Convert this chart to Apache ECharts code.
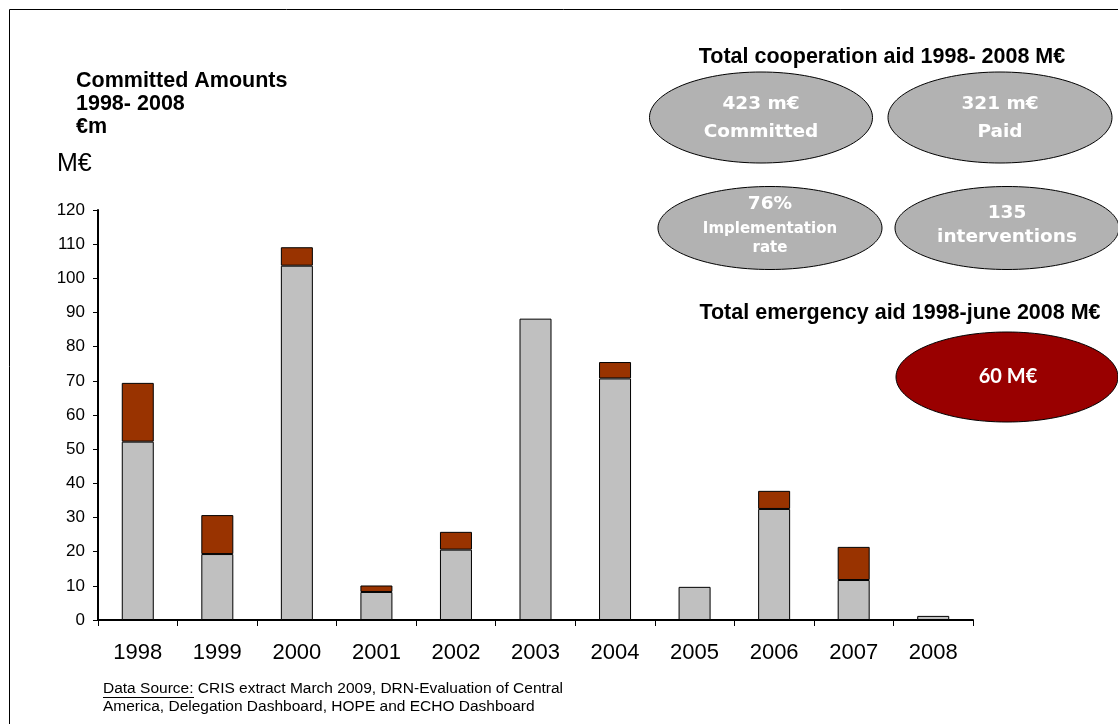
<!DOCTYPE html>
<html>
<head>
<meta charset="utf-8">
<script src="https://cdn.jsdelivr.net/npm/echarts@6/dist/echarts.min.js"></script>
<style>
  html, body { margin: 0; padding: 0; background: #fff; }
  #chart { width: 1118px; height: 724px; }
</style>
</head>
<body>
<div id="chart"></div>
<script>
// Committed amounts per year, M€
const years = ['1998', '1999', '2000', '2001', '2002', '2003', '2004', '2005', '2006', '2007', '2008'];
const cooperation = [52.2, 19.3, 103.7, 8.2, 20.6, 88.2, 70.7, 9.7, 32.5, 11.7, 1.2];
const emergency = [17.2, 11.4, 5.4, 1.9, 5.2, '-', 4.8, '-', 5.3, 9.7, '-'];

// Summary figures shown in the ovals
const coopTitle = 'Total cooperation aid 1998- 2008 M€';
const emergTitle = 'Total emergency aid 1998-june 2008 M€';
const coopBubbles = [
  ['423 m€', 'Committed'],
  ['321 m€', 'Paid'],
  ['76%', 'Implementation', 'rate'],
  ['135', 'interventions']
];
const emergBubble = '60 M€';

const chart = echarts.init(document.getElementById('chart'), null, { renderer: 'canvas' });

const titleFont = 'bold 21.5px "Liberation Sans", Arial, sans-serif';
const bubbleFont = 'bold 18.5px "DejaVu Sans", Verdana, sans-serif';
const smallBubbleFont = 'bold 15px "DejaVu Sans", Verdana, sans-serif';
const noteFont = '15.5px "Liberation Sans", Arial, sans-serif';

function oval(cx, cy, rx, ry, fill) {
  return {
    type: 'ellipse',
    shape: { cx: cx, cy: cy, rx: rx, ry: ry },
    style: { fill: fill, stroke: '#000', lineWidth: 1 },
    z: 1
  };
}
function label(text, x, y, font, fill, align) {
  return {
    type: 'text',
    x: x, y: y,
    style: {
      text: text, font: font, fill: fill || '#000',
      align: align || 'center', verticalAlign: 'middle'
    },
    z: 2
  };
}

const graphics = [
  // frame edges
  { type: 'line', shape: { x1: 9.5, y1: 9.5, x2: 1118, y2: 9.5 }, style: { stroke: '#000', lineWidth: 1 } },
  { type: 'line', shape: { x1: 9.5, y1: 9.5, x2: 9.5, y2: 724 }, style: { stroke: '#000', lineWidth: 1 } },

  // left heading
  label('Committed Amounts', 76, 81, titleFont, '#000', 'left'),
  label('1998- 2008', 76, 104, titleFont, '#000', 'left'),
  label('€m', 76, 127, titleFont, '#000', 'left'),
  label('M€', 57, 164, '25px "Liberation Sans", Arial, sans-serif', '#000', 'left'),

  // cooperation summary
  label(coopTitle, 882, 57, titleFont),
  oval(761, 117.5, 111.5, 45.5, '#b2b2b2'),
  label(coopBubbles[0][0], 761, 104, bubbleFont, '#fff'),
  label(coopBubbles[0][1], 761, 132, bubbleFont, '#fff'),
  oval(1000, 117.5, 112, 45.5, '#b2b2b2'),
  label(coopBubbles[1][0], 1000, 104, bubbleFont, '#fff'),
  label(coopBubbles[1][1], 1000, 132, bubbleFont, '#fff'),
  oval(770, 228, 112, 41.5, '#b2b2b2'),
  label(coopBubbles[2][0], 770, 204, bubbleFont, '#fff'),
  label(coopBubbles[2][1], 770, 229, smallBubbleFont, '#fff'),
  label(coopBubbles[2][2], 770, 248, smallBubbleFont, '#fff'),
  oval(1007, 228, 112, 41.5, '#b2b2b2'),
  label(coopBubbles[3][0], 1007, 213, bubbleFont, '#fff'),
  label(coopBubbles[3][1], 1007, 237, bubbleFont, '#fff'),

  // emergency summary
  label(emergTitle, 900, 313, titleFont),
  oval(1007, 377, 111, 45, '#990000'),
  label(emergBubble, 1008, 377, 'bold 20px Lato, "Open Sans", sans-serif', '#fff'),

  // source note
  label('Data Source: CRIS extract March 2009, DRN-Evaluation of Central', 103, 689, noteFont, '#000', 'left'),
  label('America, Delegation Dashboard, HOPE and ECHO Dashboard', 103, 707, noteFont, '#000', 'left'),
  { type: 'line', shape: { x1: 103, y1: 697.5, x2: 194, y2: 697.5 }, style: { stroke: '#000', lineWidth: 1 } }
];

const option = {
  animation: false,
  backgroundColor: '#fff',
  textStyle: { fontFamily: '"Liberation Sans", Arial, sans-serif' },
  grid: { left: 98, right: 145, top: 210, bottom: 104, containLabel: false },
  xAxis: {
    type: 'category',
    data: years,
    boundaryGap: true,
    axisLine: { show: true, lineStyle: { color: '#000', width: 2 } },
    axisTick: { show: true, interval: 0, length: 6, lineStyle: { color: '#000', width: 1 } },
    axisLabel: { color: '#000', fontSize: 22, margin: 22, interval: 0 },
    splitLine: { show: false }
  },
  yAxis: {
    type: 'value',
    min: 0, max: 120, interval: 10,
    axisLine: { show: true, lineStyle: { color: '#000', width: 2 } },
    axisTick: { show: true, length: 5, lineStyle: { color: '#000', width: 1 } },
    axisLabel: { color: '#000', fontSize: 17, margin: 13 },
    splitLine: { show: false }
  },
  series: [
    {
      name: 'Cooperation',
      type: 'bar',
      stack: 'total',
      data: cooperation,
      barWidth: 32,
      itemStyle: { color: '#c0c0c0', borderColor: '#000', borderWidth: 1 }
    },
    {
      name: 'Emergency',
      type: 'bar',
      stack: 'total',
      data: emergency,
      barWidth: 32,
      itemStyle: { color: '#993300', borderColor: '#000', borderWidth: 1 }
    }
  ],
  graphic: graphics
};

chart.setOption(option);
</script>
</body>
</html>
